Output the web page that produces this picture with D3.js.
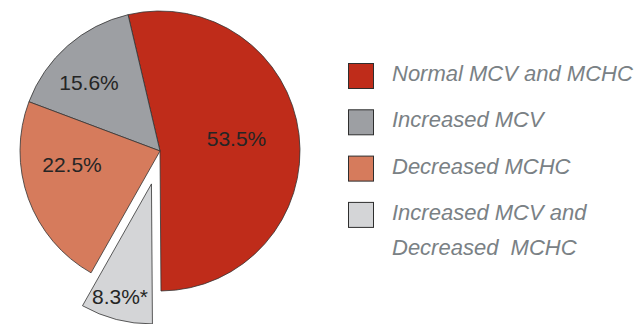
<!DOCTYPE html>
<html>
<head>
<meta charset="utf-8">
<script src="https://cdn.jsdelivr.net/npm/d3@7/dist/d3.min.js"></script>
<style>
  html, body { margin: 0; padding: 0; background: #ffffff; }
  svg { display: block; }
</style>
</head>
<body>
<svg id="chart" width="640" height="324"></svg>
<script>
// Categories in legend order, with their shares (%) and fills
const categories = [
  "Normal MCV and MCHC",
  "Increased MCV",
  "Decreased MCHC",
  "Increased MCV and Decreased MCHC"
];
const values = [53.5, 15.6, 22.5, 8.3];
const valueLabels = ["53.5%", "15.6%", "22.5%", "8.3%*"];
const legendLines = [
  ["Normal MCV and MCHC"],
  ["Increased MCV"],
  ["Decreased MCHC"],
  ["Increased MCV and", "Decreased  MCHC"]
];
const colors = ["#bf2c1a", "#9d9fa3", "#d67b5c", "#d4d5d7"];

const data = categories.map((c, i) => ({ category: c, value: values[i], label: valueLabels[i], color: colors[i] }));

const svg = d3.select("#chart");
const cx = 160, cy = 151, radius = 140;
const explodeIdx = 3, explodeDist = 34;

// Slices run counter-clockwise from six o'clock
const startA = 179.6 * Math.PI / 180;
const pie = d3.pie().sort(null).value(d => d.value)
  .startAngle(startA).endAngle(startA - 2 * Math.PI);
const arcs = pie(data);
const arc = d3.arc().innerRadius(0).outerRadius(radius);

const g = svg.append("g").attr("transform", `translate(${cx},${cy})`);

function offsetFor(d, i) {
  if (i !== explodeIdx) return [0, 0];
  const mid = (d.startAngle + d.endAngle) / 2;
  return [Math.sin(mid) * explodeDist, -Math.cos(mid) * explodeDist];
}

g.selectAll("path.slice")
  .data(arcs)
  .join("path")
  .attr("class", "slice")
  .attr("d", arc)
  .attr("transform", (d, i) => { const o = offsetFor(d, i); return `translate(${o[0]},${o[1]})`; })
  .attr("fill", d => d.data.color)
  .attr("stroke", "#333333")
  .attr("stroke-width", 0.8)
  .attr("stroke-linejoin", "round");

// Label placement relative to the pie centre (text middle)
const labelOffsets = [[76.5, -12.5], [-71, -69], [-88, 13.5], [-40, 145]];

g.selectAll("text.val")
  .data(arcs)
  .join("text")
  .attr("class", "val")
  .attr("x", (d, i) => labelOffsets[i][0])
  .attr("y", (d, i) => labelOffsets[i][1])
  .attr("text-anchor", "middle")
  .attr("dominant-baseline", "central")
  .attr("font-family", "'Liberation Sans', Arial, Helvetica, sans-serif")
  .attr("font-size", 21)
  .attr("fill", "#252525")
  .text(d => d.data.label);

// Legend
const legend = svg.append("g").attr("class", "legend");
const legendX = 348.5, legendY0 = 63.5, sw = 25, rowGap = 46.3;

const rows = legend.selectAll("g.row")
  .data(data)
  .join("g")
  .attr("class", "row")
  .attr("transform", (d, i) => `translate(${legendX},${legendY0 + i * rowGap})`);

rows.append("rect")
  .attr("width", sw).attr("height", sw)
  .attr("fill", d => d.color)
  .attr("stroke", "#2e2e2e")
  .attr("stroke-width", 1);

rows.append("text")
  .attr("x", 43.5)
  .attr("y", 17.5)
  .attr("font-family", "'Liberation Sans', Arial, Helvetica, sans-serif")
  .attr("font-style", "italic")
  .attr("font-size", 22)
  .attr("fill", "#7a8185")
  .selectAll("tspan")
  .data((d, i) => legendLines[i])
  .join("tspan")
  .attr("x", 43.5)
  .attr("dy", (t, j) => j === 0 ? 0 : 35)
  .attr("xml:space", "preserve")
  .style("white-space", "pre")
  .text(t => t);
</script>
</body>
</html>
